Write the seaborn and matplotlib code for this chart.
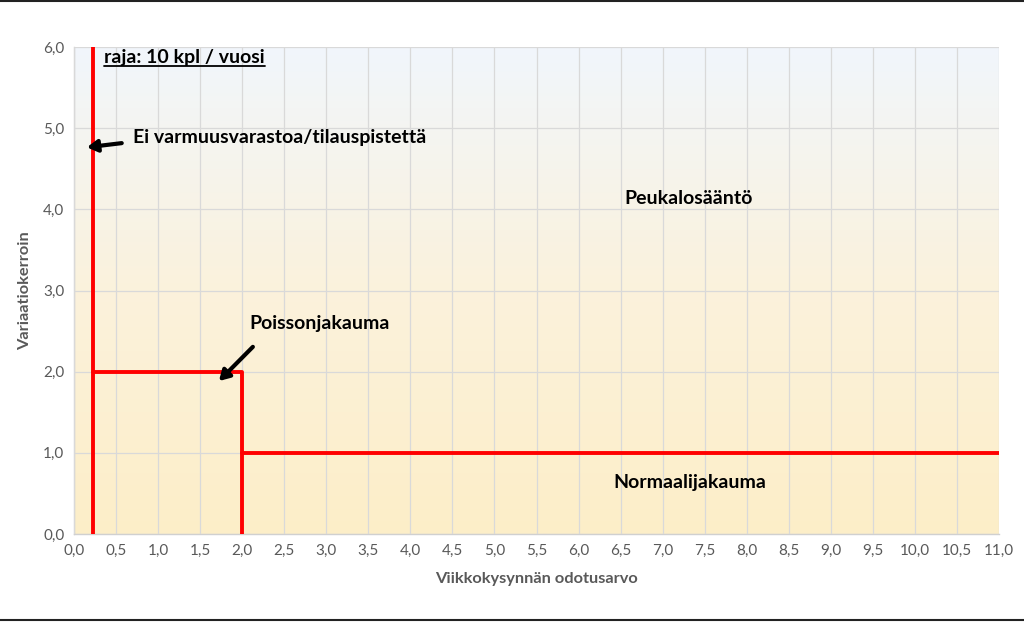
import numpy as np
import pandas as pd
import matplotlib
matplotlib.use('Agg')
import matplotlib.pyplot as plt
from matplotlib.colors import LinearSegmentedColormap
from matplotlib.lines import Line2D
import seaborn as sns

sns.set_style('white')
plt.rcParams['font.family'] = ['Lato', 'DejaVu Sans']

# rajaviivat (x, y)
raja_x = [0.22, 0.22]
raja_y = [0.0, 6.0]
poisson_x = [0.22, 2.0, 2.0]
poisson_y = [2.0, 2.0, 0.0]
normaali_x = [2.0, 11.0]
normaali_y = [1.0, 1.0]

x_ticks = np.arange(0, 11.01, 0.5)
y_ticks = np.arange(0, 6.01, 1.0)

fig = plt.figure(figsize=(10.24, 6.22), dpi=100)
ax = fig.add_axes([0.0723, 0.1415, 0.9033, 0.7829])

# taustan liukuväri
cmap = LinearSegmentedColormap.from_list('bg', ['#fdeec8', '#fbf2dc', '#f1f6fc'])
grad = np.linspace(0, 1, 256).reshape(-1, 1)
ax.imshow(grad, extent=[0, 11, 0, 6], origin='lower', aspect='auto', cmap=cmap, zorder=0)

ax.set_xlim(0, 11)
ax.set_ylim(0, 6)
ax.set_xticks(x_ticks)
ax.set_yticks(y_ticks)
ax.set_xticklabels([f'{v:.1f}'.replace('.', ',') for v in x_ticks])
ax.set_yticklabels([f'{v:.1f}'.replace('.', ',') for v in y_ticks])
ax.grid(True, color='#d9d9d9', lw=0.9, zorder=1)
ax.set_axisbelow(False)
ax.tick_params(axis='both', length=0, labelsize=11, labelcolor='#595959', pad=7)
for s in ['top', 'right']:
    ax.spines[s].set_visible(False)
for s in ['left', 'bottom']:
    ax.spines[s].set_color('#d0d0d0')
    ax.spines[s].set_linewidth(1)

red = '#ff0000'
for xs, ys in [(raja_x, raja_y), (poisson_x, poisson_y), (normaali_x, normaali_y)]:
    sns.lineplot(x=xs, y=ys, sort=False, color=red, lw=2.8, ax=ax, zorder=3,
                 estimator=None)

ax.set_xlabel('Viikkokysynnän odotusarvo', fontsize=11.8, fontweight='bold', color='#595959', labelpad=10)
ax.set_ylabel('Variaatiokerroin', fontsize=11.8, fontweight='bold', color='#595959', labelpad=8)

tk = dict(fontsize=14, fontweight='bold', color='black', zorder=4)
raja = ax.text(0.36, 5.87, 'raja: 10 kpl / vuosi', ha='left', va='center', **tk)
ax.text(0.70, 4.89, 'Ei varmuusvarastoa/tilauspistettä', ha='left', va='center', **tk)
ax.text(6.55, 4.13, 'Peukalosääntö', ha='left', va='center', **tk)
ax.text(2.09, 2.59, 'Poissonjakauma', ha='left', va='center', **tk)
ax.text(6.41, 0.64, 'Normaalijakauma', ha='left', va='center', **tk)

# alleviivaus tekstin leveydelle
fig.canvas.draw()
bb = raja.get_window_extent().transformed(ax.transData.inverted())
ax.plot([bb.x0, bb.x1], [5.765, 5.765], color='black', lw=1.3, zorder=4)

arr = dict(arrowstyle='-|>,head_length=0.6,head_width=0.35', color='black', lw=3)
ax.annotate('', xy=(0.12, 4.76), xytext=(0.60, 4.82), arrowprops=arr, zorder=4)
ax.annotate('', xy=(1.70, 1.86), xytext=(2.15, 2.33), arrowprops=arr, zorder=4)

fig.add_artist(Line2D([0, 1], [0.998, 0.998], color='#222222', lw=1.5, transform=fig.transFigure))
fig.add_artist(Line2D([0, 1], [0.003, 0.003], color='#222222', lw=1.5, transform=fig.transFigure))

fig.savefig('out.png', dpi=100)
